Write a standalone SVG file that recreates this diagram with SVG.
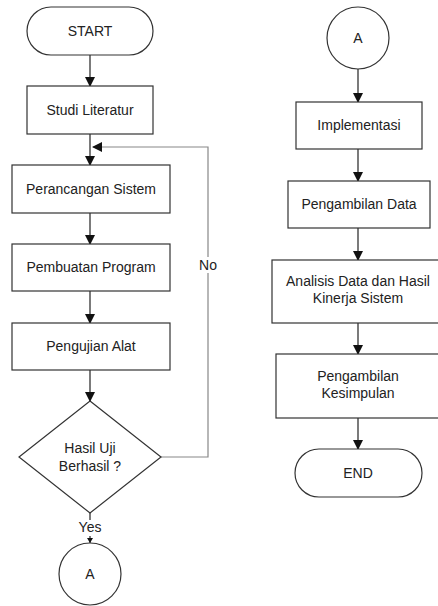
<svg xmlns="http://www.w3.org/2000/svg" width="438" height="606" viewBox="0 0 438 606">
<style>
.s{fill:#fff;stroke:#333;stroke-width:1.2}
.t{font-family:"Liberation Sans",Arial,sans-serif;font-size:14px;fill:#222;text-anchor:middle;dominant-baseline:central}
.c{fill:none;stroke:#222;stroke-width:1.2}
.g{fill:none;stroke:#888;stroke-width:1.2}
</style>
<defs>
<marker id="ah" markerWidth="10" markerHeight="10" refX="9" refY="5" orient="auto" markerUnits="userSpaceOnUse">
<path d="M0,0 L10,5 L0,10 Z" fill="#111"/>
</marker>
<marker id="ahs" markerWidth="5" markerHeight="6" refX="5" refY="3" orient="auto" markerUnits="userSpaceOnUse">
<path d="M0,0 L5,3 L0,6 Z" fill="#111"/>
</marker>
</defs>
<g id="connectors">
<path class="c" d="M90,55 V86" marker-end="url(#ah)"/>
<path class="c" d="M90,134 V165" marker-end="url(#ah)"/>
<path class="c" d="M90,213 V244" marker-end="url(#ah)"/>
<path class="c" d="M90,291 V323" marker-end="url(#ah)"/>
<path class="c" d="M90,370 V401" marker-end="url(#ah)"/>
<path class="g" d="M161,457 H208 V147 H93" marker-end="url(#ah)"/>
<rect x="197" y="257" width="22" height="16" fill="#fff"/>
<text class="t" x="208" y="265">No</text>
<path class="c" d="M90,513 V520"/>
<path class="c" d="M90,536 V543" marker-end="url(#ahs)"/>
<text class="t" x="90" y="527">Yes</text>
<path class="c" d="M358,69 V102" marker-end="url(#ah)"/>
<path class="c" d="M358,149 V181" marker-end="url(#ah)"/>
<path class="c" d="M358,228 V260" marker-end="url(#ah)"/>
<path class="c" d="M358,323 V354" marker-end="url(#ah)"/>
<path class="c" d="M358,418 V449" marker-end="url(#ah)"/>
</g>
<g id="start"><rect class="s" x="27" y="7" width="126" height="48" rx="24"/><text class="t" x="90" y="31">START</text></g>
<g id="studi"><rect class="s" x="27" y="86" width="126" height="48"/><text class="t" x="90" y="110">Studi Literatur</text></g>
<g id="perancangan"><rect class="s" x="12" y="165" width="158" height="48"/><text class="t" x="91" y="189">Perancangan Sistem</text></g>
<g id="pembuatan"><rect class="s" x="12" y="244" width="158" height="47"/><text class="t" x="91" y="267">Pembuatan Program</text></g>
<g id="pengujian"><rect class="s" x="12" y="323" width="158" height="47"/><text class="t" x="91" y="346">Pengujian Alat</text></g>
<g id="hasil"><polygon class="s" points="90,401 161,457 90,513 19,457"/><text class="t" x="90" y="448">Hasil Uji</text><text class="t" x="90" y="466">Berhasil ?</text></g>
<g id="a1"><circle class="s" cx="90" cy="574" r="31"/><text class="t" x="90" y="574">A</text></g>
<g id="a2"><circle class="s" cx="358" cy="38" r="31"/><text class="t" x="358" y="38">A</text></g>
<g id="implementasi"><rect class="s" x="296" y="102" width="126" height="47"/><text class="t" x="359" y="125">Implementasi</text></g>
<g id="pengambilan"><rect class="s" x="288" y="181" width="142" height="47"/><text class="t" x="359" y="204">Pengambilan Data</text></g>
<g id="analisis"><rect class="s" x="272" y="260" width="172" height="63"/><text class="t" x="358" y="281">Analisis Data dan Hasil</text><text class="t" x="358" y="298">Kinerja Sistem</text></g>
<g id="kesimpulan"><rect class="s" x="276" y="354" width="164" height="64"/><text class="t" x="358" y="376">Pengambilan</text><text class="t" x="358" y="393">Kesimpulan</text></g>
<g id="end"><rect class="s" x="295" y="449" width="127" height="48" rx="24"/><text class="t" x="358" y="473">END</text></g>
</svg>
